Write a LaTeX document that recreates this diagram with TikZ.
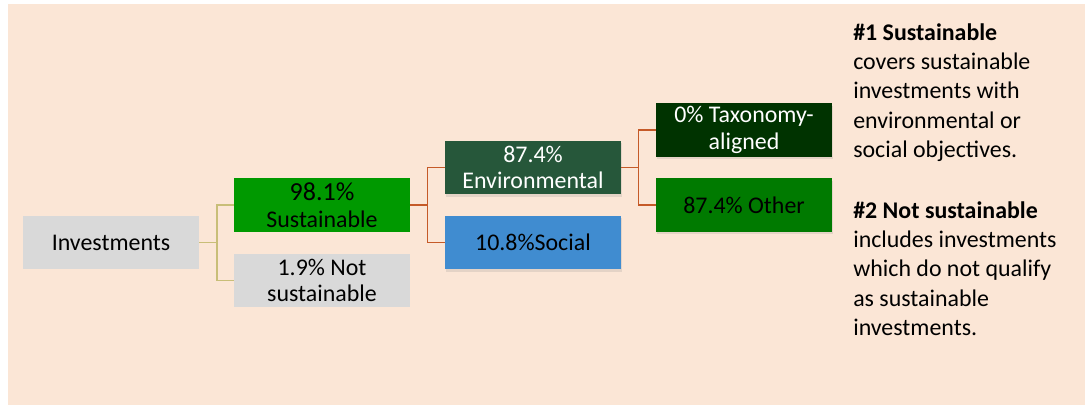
\documentclass[tikz,border=0pt]{standalone}
\usepackage{fontspec}
\setmainfont{Carlito}
\usepackage{tikz}
\usetikzlibrary{positioning,calc,shadows}
\usepackage{xcolor}
\definecolor{bgpeach}{HTML}{FBE6D6}
\definecolor{boxgray}{HTML}{D9D9D9}
\definecolor{susgreen}{HTML}{009900}
\definecolor{envgreen}{HTML}{26573A}
\definecolor{socblue}{HTML}{408CD0}
\definecolor{taxgreen}{HTML}{003300}
\definecolor{othgreen}{HTML}{007A00}
\definecolor{invline}{HTML}{C8BE78}
\definecolor{susline}{HTML}{C55A28}

\begin{document}
\begin{tikzpicture}[
    every node/.style={rectangle, minimum width=4.4cm, minimum height=1.33cm,
        align=center, inner sep=2pt, font=\fontsize{17}{19}\selectfont},
    shade/.style={drop shadow={shadow xshift=0.6pt, shadow yshift=-1.8pt, opacity=0.18}},
    linkA/.style={draw=invline, line width=1.3pt},
    linkB/.style={draw=susline, line width=1.3pt},
    note/.style={draw=none, fill=none, minimum width=0pt, minimum height=0pt,
        inner sep=0pt, anchor=north west, align=left,
        font=\fontsize{17}{20.9}\selectfont}
]

% background
\fill[bgpeach] (0.2,0) rectangle (27.125,10.025);
\useasboundingbox (0,0) rectangle (27.125,10.125);

% tree boxes
\node[fill=boxgray] (inv) at (2.775,4.0625) {Investments};
\node[fill=susgreen] (sus) at (8.05,5.0) {{\fontsize{18.5}{19}\selectfont 98.1\%}\\Sustainable};
\node[fill=boxgray] (notsus) at (8.05,3.1125) {1.9\% Not\\sustainable};
\node[fill=envgreen, text=white, shade] (env) at (13.325,5.9375) {87.4\%\\Environmental};
\node[fill=socblue, shade] (soc) at (13.325,4.0625) {10.8\%Social};
\node[fill=taxgreen, text=white, shade] (tax) at (18.6,6.875) {0\% Taxonomy-\\aligned};
\node[fill=othgreen, shade] (oth) at (18.6,5.0) {87.4\% Other};

% connectors
\draw[linkA] (inv.east) -- ++(0.44,0) |- (sus.west);
\draw[linkA] (inv.east) -- ++(0.44,0) |- (notsus.west);
\draw[linkB] (sus.east) -- ++(0.43,0) |- (env.west);
\draw[linkB] (sus.east) -- ++(0.43,0) |- (soc.west);
\draw[linkB] (env.east) -- ++(0.43,0) |- (tax.west);
\draw[linkB] (env.east) -- ++(0.43,0) |- (oth.west);

% side notes
\node[note] (note1) at (21.325,9.55) {\textbf{\#1 Sustainable}\\covers sustainable\\investments with\\environmental or\\social objectives.};
\node[note] (note2) at (21.325,5.1) {\textbf{\#2 Not sustainable}\\includes investments\\which do not qualify\\as sustainable\\investments.};

\end{tikzpicture}
\end{document}
